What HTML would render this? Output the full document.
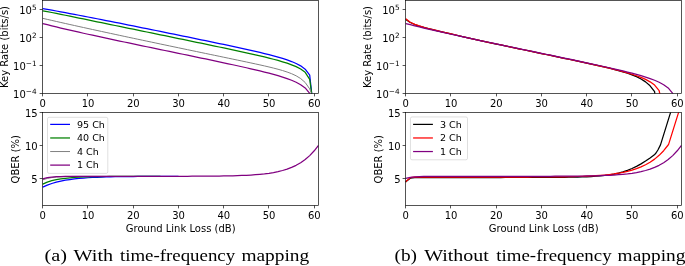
<!DOCTYPE html>
<html><head><meta charset="utf-8"><title>Key rate and QBER vs ground link loss</title>
<style>html,body{margin:0;padding:0;background:#fff}body{width:685px;height:266px;overflow:hidden}</style>
</head><body>
<svg width="685" height="266" viewBox="0 0 685 266" style="display:block">
<defs>
<clipPath id="ctl"><rect x="42.5" y="0.5" width="276.0" height="93.0"/></clipPath>
<clipPath id="cbl"><rect x="42.5" y="112.4" width="276.0" height="93.1"/></clipPath>
<clipPath id="ctr"><rect x="405.5" y="0.5" width="276.0" height="93.0"/></clipPath>
<clipPath id="cbr"><rect x="405.5" y="112.4" width="276.0" height="93.1"/></clipPath>
</defs>
<rect width="685" height="266" fill="#fff"/>
<path d="M42.50,8.53 L42.75,8.57 L47.27,9.37 L51.80,10.18 L56.32,11.01 L60.85,11.84 L65.37,12.68 L69.90,13.53 L74.42,14.38 L78.95,15.25 L83.47,16.11 L88.00,16.99 L92.52,17.87 L97.05,18.75 L101.57,19.64 L106.09,20.53 L110.62,21.43 L115.14,22.32 L119.67,23.23 L124.19,24.13 L128.72,25.04 L133.24,25.94 L137.77,26.85 L142.29,27.77 L146.82,28.68 L151.34,29.60 L155.86,30.51 L160.39,31.43 L164.91,32.35 L169.44,33.28 L173.96,34.20 L178.49,35.12 L183.01,36.05 L187.54,36.98 L192.06,37.91 L196.59,38.84 L201.11,39.77 L205.64,40.71 L210.16,41.64 L214.68,42.59 L219.21,43.53 L223.73,44.48 L228.26,45.44 L232.78,46.40 L237.31,47.37 L241.83,48.35 L246.36,49.35 L250.88,50.36 L255.41,51.39 L259.93,52.44 L264.45,53.53 L268.98,54.65 L273.50,55.83 L278.03,57.08 L282.55,58.42 L287.08,59.88 L291.60,61.54 L296.13,63.47 L300.65,65.87 L305.18,69.19 L309.70,75.10 L311.70,93.50 L311.95,96.00" fill="none" stroke="#0000ff" stroke-width="1.25" stroke-linejoin="round" clip-path="url(#ctl)"/>
<path d="M42.50,10.80 L42.75,10.84 L47.27,11.62 L51.80,12.50 L56.32,13.41 L60.85,14.33 L65.37,15.26 L69.90,16.19 L74.42,17.12 L78.95,18.05 L83.47,18.98 L88.00,19.91 L92.52,20.84 L97.05,21.77 L101.57,22.70 L106.09,23.63 L110.62,24.56 L115.14,25.49 L119.67,26.42 L124.19,27.35 L128.72,28.28 L133.24,29.21 L137.77,30.14 L142.29,31.07 L146.82,32.00 L151.34,32.93 L155.86,33.87 L160.39,34.80 L164.91,35.73 L169.44,36.66 L173.96,37.59 L178.49,38.53 L183.01,39.46 L187.54,40.40 L192.06,41.33 L196.59,42.27 L201.11,43.21 L205.64,44.15 L210.16,45.09 L214.68,46.04 L219.21,46.99 L223.73,47.94 L228.26,48.90 L232.78,49.86 L237.31,50.84 L241.83,51.82 L246.36,52.81 L250.88,53.82 L255.41,54.85 L259.93,55.90 L264.45,56.97 L268.98,58.09 L273.50,59.25 L278.03,60.47 L282.55,61.78 L287.08,63.21 L291.60,64.81 L296.13,66.68 L300.65,69.02 L305.18,72.36 L309.70,79.41 L311.70,93.50 L311.95,96.00" fill="none" stroke="#008000" stroke-width="1.25" stroke-linejoin="round" clip-path="url(#ctl)"/>
<path d="M42.50,18.28 L42.75,18.34 L47.27,19.38 L51.80,20.42 L56.32,21.45 L60.85,22.47 L65.37,23.49 L69.90,24.51 L74.42,25.51 L78.95,26.52 L83.47,27.51 L88.00,28.51 L92.52,29.50 L97.05,30.48 L101.57,31.46 L106.09,32.44 L110.62,33.42 L115.14,34.39 L119.67,35.36 L124.19,36.33 L128.72,37.30 L133.24,38.26 L137.77,39.22 L142.29,40.18 L146.82,41.14 L151.34,42.09 L155.86,43.04 L160.39,44.00 L164.91,44.95 L169.44,45.90 L173.96,46.85 L178.49,47.79 L183.01,48.74 L187.54,49.68 L192.06,50.63 L196.59,51.57 L201.11,52.52 L205.64,53.46 L210.16,54.40 L214.68,55.34 L219.21,56.28 L223.73,57.23 L228.26,58.17 L232.78,59.11 L237.31,60.06 L241.83,61.01 L246.36,61.97 L250.88,62.93 L255.41,63.91 L259.93,64.90 L264.45,65.92 L268.98,66.97 L273.50,68.08 L278.03,69.26 L282.55,70.54 L287.08,72.00 L291.60,73.70 L296.13,75.80 L300.65,78.54 L305.18,82.47 L309.70,88.91 L311.50,93.50 L311.70,96.00" fill="none" stroke="#808080" stroke-width="1.0" stroke-linejoin="round" clip-path="url(#ctl)"/>
<path d="M42.50,23.47 L42.75,23.54 L47.27,24.71 L51.80,25.85 L56.32,26.96 L60.85,28.05 L65.37,29.12 L69.90,30.17 L74.42,31.21 L78.95,32.23 L83.47,33.24 L88.00,34.24 L92.52,35.23 L97.05,36.22 L101.57,37.19 L106.09,38.16 L110.62,39.13 L115.14,40.09 L119.67,41.05 L124.19,42.00 L128.72,42.95 L133.24,43.90 L137.77,44.85 L142.29,45.79 L146.82,46.74 L151.34,47.68 L155.86,48.62 L160.39,49.56 L164.91,50.50 L169.44,51.44 L173.96,52.38 L178.49,53.32 L183.01,54.26 L187.54,55.20 L192.06,56.14 L196.59,57.08 L201.11,58.03 L205.64,58.98 L210.16,59.93 L214.68,60.88 L219.21,61.84 L223.73,62.80 L228.26,63.77 L232.78,64.75 L237.31,65.74 L241.83,66.74 L246.36,67.75 L250.88,68.79 L255.41,69.84 L259.93,70.92 L264.45,72.04 L268.98,73.19 L273.50,74.41 L278.03,75.69 L282.55,77.08 L287.08,78.59 L291.60,80.28 L296.13,82.26 L300.65,84.69 L305.18,87.97 L309.70,93.46 L310.00,96.00" fill="none" stroke="#800080" stroke-width="1.25" stroke-linejoin="round" clip-path="url(#ctl)"/>
<path d="M405.50,19.18 L405.75,19.40 L410.27,22.53 L414.80,24.55 L419.32,26.08 L423.85,27.37 L428.37,28.56 L432.90,29.69 L437.42,30.78 L441.95,31.86 L446.47,32.91 L451.00,33.96 L455.52,35.00 L460.05,36.03 L464.57,37.05 L469.09,38.07 L473.62,39.08 L478.14,40.08 L482.67,41.08 L487.19,42.06 L491.72,43.04 L496.24,44.02 L500.77,44.98 L505.29,45.95 L509.82,46.90 L514.34,47.86 L518.86,48.81 L523.39,49.76 L527.91,50.71 L532.44,51.66 L536.96,52.60 L541.49,53.55 L546.01,54.50 L550.54,55.44 L555.06,56.39 L559.59,57.34 L564.11,58.29 L568.64,59.24 L573.16,60.20 L577.68,61.16 L582.21,62.13 L586.73,63.10 L591.26,64.09 L595.78,65.09 L600.31,66.11 L604.83,67.15 L609.36,68.23 L613.88,69.36 L618.41,70.55 L622.93,71.83 L627.45,73.23 L631.98,74.82 L636.50,76.68 L641.03,78.95 L645.55,81.85 L650.08,85.80 L654.60,91.69 L654.80,93.50 L654.90,96.00" fill="none" stroke="#000000" stroke-width="1.25" stroke-linejoin="round" clip-path="url(#ctr)"/>
<path d="M405.50,18.58 L405.75,18.83 L410.27,22.23 L414.80,24.38 L419.32,25.96 L423.85,27.29 L428.37,28.49 L432.90,29.63 L437.42,30.73 L441.95,31.80 L446.47,32.87 L451.00,33.92 L455.52,34.96 L460.05,35.99 L464.57,37.02 L469.09,38.04 L473.62,39.05 L478.14,40.05 L482.67,41.05 L487.19,42.04 L491.72,43.02 L496.24,44.00 L500.77,44.97 L505.29,45.93 L509.82,46.89 L514.34,47.85 L518.86,48.80 L523.39,49.75 L527.91,50.70 L532.44,51.65 L536.96,52.60 L541.49,53.54 L546.01,54.49 L550.54,55.44 L555.06,56.39 L559.59,57.34 L564.11,58.29 L568.64,59.25 L573.16,60.20 L577.68,61.17 L582.21,62.14 L586.73,63.11 L591.26,64.10 L595.78,65.10 L600.31,66.12 L604.83,67.15 L609.36,68.21 L613.88,69.31 L618.41,70.44 L622.93,71.63 L627.45,72.90 L631.98,74.26 L636.50,75.75 L641.03,77.44 L645.55,79.41 L650.08,81.83 L654.60,85.10 L659.13,90.57 L659.75,93.50 L659.85,96.00" fill="none" stroke="#ff0000" stroke-width="1.25" stroke-linejoin="round" clip-path="url(#ctr)"/>
<path d="M405.50,23.47 L405.75,23.54 L410.27,24.71 L414.80,25.85 L419.32,26.96 L423.85,28.05 L428.37,29.12 L432.90,30.17 L437.42,31.21 L441.95,32.23 L446.47,33.24 L451.00,34.24 L455.52,35.23 L460.05,36.22 L464.57,37.19 L469.09,38.16 L473.62,39.13 L478.14,40.09 L482.67,41.05 L487.19,42.00 L491.72,42.95 L496.24,43.90 L500.77,44.85 L505.29,45.79 L509.82,46.74 L514.34,47.68 L518.86,48.62 L523.39,49.56 L527.91,50.50 L532.44,51.44 L536.96,52.38 L541.49,53.32 L546.01,54.26 L550.54,55.20 L555.06,56.14 L559.59,57.08 L564.11,58.03 L568.64,58.98 L573.16,59.93 L577.68,60.88 L582.21,61.84 L586.73,62.80 L591.26,63.77 L595.78,64.75 L600.31,65.74 L604.83,66.74 L609.36,67.75 L613.88,68.79 L618.41,69.84 L622.93,70.92 L627.45,72.04 L631.98,73.19 L636.50,74.41 L641.03,75.69 L645.55,77.08 L650.08,78.59 L654.60,80.28 L659.13,82.26 L663.65,84.69 L668.18,87.97 L672.70,93.46 L673.00,96.00" fill="none" stroke="#800080" stroke-width="1.25" stroke-linejoin="round" clip-path="url(#ctr)"/>
<path d="M42.50,187.18 L42.75,187.06 L47.27,185.10 L51.80,183.49 L56.32,182.18 L60.85,181.11 L65.37,180.23 L69.90,179.52 L74.42,178.93 L78.95,178.46 L83.47,178.06 L88.00,177.75 L92.52,177.49 L97.05,177.27 L101.57,177.10 L106.09,176.96 L110.62,176.84 L115.14,176.74 L119.67,176.67 L124.19,176.60 L128.72,176.55 L133.24,176.51 L137.77,176.47 L142.29,176.44 L146.82,176.42 L151.34,176.39 L155.86,176.38 L160.39,176.36 L164.91,176.35 L169.44,176.33 L173.96,176.32 L178.49,176.31 L178.50,176.31" fill="none" stroke="#0000ff" stroke-width="1.25" stroke-linejoin="round" clip-path="url(#cbl)"/>
<path d="M42.50,184.22 L42.75,184.08 L47.27,182.08 L51.80,180.71 L56.32,179.68 L60.85,178.89 L65.37,178.29 L69.90,177.83 L74.42,177.47 L78.95,177.20 L83.47,177.00 L88.00,176.84 L92.52,176.72 L97.05,176.62 L101.57,176.55 L106.09,176.50 L110.62,176.46 L115.14,176.42 L119.67,176.40 L124.19,176.38 L128.72,176.36 L133.24,176.35 L137.77,176.34 L142.29,176.34 L146.82,176.33 L151.34,176.32 L155.86,176.32 L160.39,176.31 L160.40,176.31" fill="none" stroke="#008000" stroke-width="1.25" stroke-linejoin="round" clip-path="url(#cbl)"/>
<path d="M42.50,179.92 L42.75,179.82 L47.27,178.45 L51.80,177.61 L56.32,177.10 L60.85,176.80 L65.37,176.61 L69.90,176.50 L74.42,176.43 L78.95,176.39 L83.47,176.36 L88.00,176.35 L92.52,176.34 L97.05,176.33 L101.57,176.33 L106.09,176.32 L110.00,176.32" fill="none" stroke="#808080" stroke-width="1.0" stroke-linejoin="round" clip-path="url(#cbl)"/>
<path d="M42.50,178.89 L42.75,178.80 L47.27,177.64 L51.80,177.02 L56.32,176.69 L60.85,176.52 L65.37,176.43 L69.90,176.38 L74.42,176.35 L78.95,176.34 L83.47,176.33 L88.00,176.33 L92.52,176.32 L97.05,176.32 L101.57,176.32 L106.09,176.32 L110.62,176.32 L115.14,176.32 L119.67,176.32 L124.19,176.32 L128.72,176.32 L133.24,176.32 L137.77,176.32 L142.29,176.31 L146.82,176.31 L151.34,176.31 L155.86,176.31 L160.39,176.30 L164.91,176.30 L169.44,176.29 L173.96,176.29 L178.49,176.28 L183.01,176.27 L187.54,176.26 L192.06,176.24 L196.59,176.22 L201.11,176.20 L205.64,176.17 L210.16,176.13 L214.68,176.09 L219.21,176.03 L223.73,175.96 L228.26,175.88 L232.78,175.77 L237.31,175.64 L241.83,175.48 L246.36,175.27 L250.88,175.02 L255.41,174.71 L259.93,174.33 L264.45,173.85 L268.98,173.26 L273.50,172.53 L278.03,171.62 L282.55,170.51 L287.08,169.12 L291.60,167.42 L296.13,165.31 L300.65,162.72 L305.18,159.52 L309.70,155.60 L314.23,150.80 L318.50,145.28" fill="none" stroke="#800080" stroke-width="1.25" stroke-linejoin="round" clip-path="url(#cbl)"/>
<path d="M405.50,182.13 L405.75,181.71 L410.27,178.25 L414.80,177.63 L419.32,177.52 L423.85,177.50 L428.37,177.50 L432.90,177.50 L437.42,177.50 L441.95,177.50 L446.47,177.50 L451.00,177.50 L455.52,177.50 L460.05,177.50 L464.57,177.50 L469.09,177.50 L473.62,177.50 L478.14,177.50 L482.67,177.50 L487.19,177.50 L491.72,177.50 L496.24,177.50 L500.77,177.50 L505.29,177.49 L509.82,177.49 L514.34,177.49 L518.86,177.49 L523.39,177.48 L527.91,177.48 L532.44,177.47 L536.96,177.46 L541.49,177.45 L546.01,177.43 L550.54,177.41 L555.06,177.39 L559.59,177.35 L564.11,177.31 L568.64,177.25 L573.16,177.17 L577.68,177.07 L582.21,176.94 L586.73,176.76 L591.26,176.54 L595.78,176.25 L600.31,175.88 L604.83,175.41 L609.36,174.79 L613.88,174.02 L618.41,173.04 L622.93,171.82 L627.45,170.32 L631.98,168.51 L636.50,166.35 L641.03,163.85 L645.55,161.03 L650.08,157.93 L654.36,154.83 L656.00,153.00 L657.90,150.00 L660.50,144.90 L670.60,112.40 L676.45,93.20" fill="none" stroke="#000000" stroke-width="1.25" stroke-linejoin="round" clip-path="url(#cbr)"/>
<path d="M405.50,182.14 L405.75,181.61 L410.27,177.66 L414.80,177.13 L419.32,177.06 L423.85,177.05 L428.37,177.05 L432.90,177.05 L437.42,177.05 L441.95,177.05 L446.47,177.05 L451.00,177.05 L455.52,177.05 L460.05,177.05 L464.57,177.05 L469.09,177.05 L473.62,177.05 L478.14,177.05 L482.67,177.04 L487.19,177.04 L491.72,177.04 L496.24,177.04 L500.77,177.04 L505.29,177.03 L509.82,177.03 L514.34,177.03 L518.86,177.02 L523.39,177.01 L527.91,177.00 L532.44,176.99 L536.96,176.98 L541.49,176.96 L546.01,176.93 L550.54,176.90 L555.06,176.87 L559.59,176.82 L564.11,176.77 L568.64,176.69 L573.16,176.61 L577.68,176.50 L582.21,176.36 L586.73,176.19 L591.26,175.98 L595.78,175.72 L600.31,175.40 L604.83,175.01 L609.36,174.53 L613.88,173.95 L618.41,173.24 L622.93,172.38 L627.45,171.35 L631.98,170.12 L636.50,168.64 L641.03,166.87 L645.55,164.75 L650.08,162.20 L654.60,159.11 L659.13,155.35 L663.65,150.72 L668.18,145.00 L668.60,144.39 L678.60,112.40 L684.45,93.10" fill="none" stroke="#ff0000" stroke-width="1.25" stroke-linejoin="round" clip-path="url(#cbr)"/>
<path d="M405.50,178.47 L405.75,178.40 L410.27,177.43 L414.80,176.91 L419.32,176.63 L423.85,176.49 L428.37,176.41 L432.90,176.37 L437.42,176.35 L441.95,176.33 L446.47,176.33 L451.00,176.33 L455.52,176.32 L460.05,176.32 L464.57,176.32 L469.09,176.32 L473.62,176.32 L478.14,176.32 L482.67,176.32 L487.19,176.32 L491.72,176.32 L496.24,176.32 L500.77,176.32 L505.29,176.31 L509.82,176.31 L514.34,176.31 L518.86,176.31 L523.39,176.30 L527.91,176.30 L532.44,176.29 L536.96,176.29 L541.49,176.28 L546.01,176.27 L550.54,176.26 L555.06,176.24 L559.59,176.22 L564.11,176.20 L568.64,176.17 L573.16,176.13 L577.68,176.09 L582.21,176.03 L586.73,175.96 L591.26,175.88 L595.78,175.77 L600.31,175.64 L604.83,175.48 L609.36,175.27 L613.88,175.02 L618.41,174.71 L622.93,174.33 L627.45,173.85 L631.98,173.26 L636.50,172.53 L641.03,171.62 L645.55,170.51 L650.08,169.12 L654.60,167.42 L659.13,165.31 L663.65,162.72 L668.18,159.52 L672.70,155.60 L677.23,150.80 L681.50,145.28" fill="none" stroke="#800080" stroke-width="1.25" stroke-linejoin="round" clip-path="url(#cbr)"/>
<rect x="42.5" y="0.5" width="276.0" height="93.0" fill="none" stroke="#000" stroke-width="0.67"/>
<line x1="42.50" x2="42.50" y1="93.5" y2="96.4" stroke="#000" stroke-width="0.67"/>
<text x="42.80" y="107.20" text-anchor="middle" font-family="DejaVu Sans, Liberation Sans, sans-serif" font-size="10" fill="#000">0</text>
<line x1="87.50" x2="87.50" y1="93.5" y2="96.4" stroke="#000" stroke-width="0.67"/>
<text x="88.05" y="107.20" text-anchor="middle" font-family="DejaVu Sans, Liberation Sans, sans-serif" font-size="10" fill="#000">10</text>
<line x1="133.50" x2="133.50" y1="93.5" y2="96.4" stroke="#000" stroke-width="0.67"/>
<text x="133.29" y="107.20" text-anchor="middle" font-family="DejaVu Sans, Liberation Sans, sans-serif" font-size="10" fill="#000">20</text>
<line x1="178.50" x2="178.50" y1="93.5" y2="96.4" stroke="#000" stroke-width="0.67"/>
<text x="178.54" y="107.20" text-anchor="middle" font-family="DejaVu Sans, Liberation Sans, sans-serif" font-size="10" fill="#000">30</text>
<line x1="223.50" x2="223.50" y1="93.5" y2="96.4" stroke="#000" stroke-width="0.67"/>
<text x="223.78" y="107.20" text-anchor="middle" font-family="DejaVu Sans, Liberation Sans, sans-serif" font-size="10" fill="#000">40</text>
<line x1="268.50" x2="268.50" y1="93.5" y2="96.4" stroke="#000" stroke-width="0.67"/>
<text x="269.03" y="107.20" text-anchor="middle" font-family="DejaVu Sans, Liberation Sans, sans-serif" font-size="10" fill="#000">50</text>
<line x1="314.50" x2="314.50" y1="93.5" y2="96.4" stroke="#000" stroke-width="0.67"/>
<text x="314.28" y="107.20" text-anchor="middle" font-family="DejaVu Sans, Liberation Sans, sans-serif" font-size="10" fill="#000">60</text>
<line x1="39.6" x2="42.5" y1="9.50" y2="9.50" stroke="#000" stroke-width="0.67"/>
<text x="36.60" y="14.30" text-anchor="end" font-family="DejaVu Sans, Liberation Sans, sans-serif" font-size="10" fill="#000">10<tspan font-size="7.3" dy="-4.2">5</tspan></text>
<line x1="39.6" x2="42.5" y1="37.50" y2="37.50" stroke="#000" stroke-width="0.67"/>
<text x="36.60" y="42.20" text-anchor="end" font-family="DejaVu Sans, Liberation Sans, sans-serif" font-size="10" fill="#000">10<tspan font-size="7.3" dy="-4.2">2</tspan></text>
<line x1="39.6" x2="42.5" y1="65.50" y2="65.50" stroke="#000" stroke-width="0.67"/>
<text x="36.60" y="70.10" text-anchor="end" font-family="DejaVu Sans, Liberation Sans, sans-serif" font-size="10" fill="#000">10<tspan font-size="7.3" dy="-4.2">−1</tspan></text>
<line x1="39.6" x2="42.5" y1="93.50" y2="93.50" stroke="#000" stroke-width="0.67"/>
<text x="36.60" y="98.00" text-anchor="end" font-family="DejaVu Sans, Liberation Sans, sans-serif" font-size="10" fill="#000">10<tspan font-size="7.3" dy="-4.2">−4</tspan></text>
<text transform="translate(8.10,47.00) rotate(-90)" text-anchor="middle" font-family="DejaVu Sans, Liberation Sans, sans-serif" font-size="10" fill="#000">Key Rate (bits/s)</text>
<rect x="42.5" y="112.4" width="276.0" height="93.1" fill="none" stroke="#000" stroke-width="0.67"/>
<line x1="42.50" x2="42.50" y1="205.5" y2="208.4" stroke="#000" stroke-width="0.67"/>
<text x="42.80" y="219.20" text-anchor="middle" font-family="DejaVu Sans, Liberation Sans, sans-serif" font-size="10" fill="#000">0</text>
<line x1="87.50" x2="87.50" y1="205.5" y2="208.4" stroke="#000" stroke-width="0.67"/>
<text x="88.05" y="219.20" text-anchor="middle" font-family="DejaVu Sans, Liberation Sans, sans-serif" font-size="10" fill="#000">10</text>
<line x1="133.50" x2="133.50" y1="205.5" y2="208.4" stroke="#000" stroke-width="0.67"/>
<text x="133.29" y="219.20" text-anchor="middle" font-family="DejaVu Sans, Liberation Sans, sans-serif" font-size="10" fill="#000">20</text>
<line x1="178.50" x2="178.50" y1="205.5" y2="208.4" stroke="#000" stroke-width="0.67"/>
<text x="178.54" y="219.20" text-anchor="middle" font-family="DejaVu Sans, Liberation Sans, sans-serif" font-size="10" fill="#000">30</text>
<line x1="223.50" x2="223.50" y1="205.5" y2="208.4" stroke="#000" stroke-width="0.67"/>
<text x="223.78" y="219.20" text-anchor="middle" font-family="DejaVu Sans, Liberation Sans, sans-serif" font-size="10" fill="#000">40</text>
<line x1="268.50" x2="268.50" y1="205.5" y2="208.4" stroke="#000" stroke-width="0.67"/>
<text x="269.03" y="219.20" text-anchor="middle" font-family="DejaVu Sans, Liberation Sans, sans-serif" font-size="10" fill="#000">50</text>
<line x1="314.50" x2="314.50" y1="205.5" y2="208.4" stroke="#000" stroke-width="0.67"/>
<text x="314.28" y="219.20" text-anchor="middle" font-family="DejaVu Sans, Liberation Sans, sans-serif" font-size="10" fill="#000">60</text>
<line x1="39.6" x2="42.5" y1="178.50" y2="178.50" stroke="#000" stroke-width="0.67"/>
<text x="37.70" y="183.30" text-anchor="end" font-family="DejaVu Sans, Liberation Sans, sans-serif" font-size="10" fill="#000">5</text>
<line x1="39.6" x2="42.5" y1="145.50" y2="145.50" stroke="#000" stroke-width="0.67"/>
<text x="37.70" y="150.05" text-anchor="end" font-family="DejaVu Sans, Liberation Sans, sans-serif" font-size="10" fill="#000">10</text>
<line x1="39.6" x2="42.5" y1="112.50" y2="112.50" stroke="#000" stroke-width="0.67"/>
<text x="37.70" y="116.80" text-anchor="end" font-family="DejaVu Sans, Liberation Sans, sans-serif" font-size="10" fill="#000">15</text>
<text transform="translate(18.50,159.25) rotate(-90)" text-anchor="middle" font-family="DejaVu Sans, Liberation Sans, sans-serif" font-size="10" fill="#000">QBER (%)</text>
<text x="180.70" y="231.8" text-anchor="middle" font-family="DejaVu Sans, Liberation Sans, sans-serif" font-size="10" fill="#000">Ground Link Loss (dB)</text>
<rect x="405.5" y="0.5" width="276.0" height="93.0" fill="none" stroke="#000" stroke-width="0.67"/>
<line x1="405.50" x2="405.50" y1="93.5" y2="96.4" stroke="#000" stroke-width="0.67"/>
<text x="405.80" y="107.20" text-anchor="middle" font-family="DejaVu Sans, Liberation Sans, sans-serif" font-size="10" fill="#000">0</text>
<line x1="450.50" x2="450.50" y1="93.5" y2="96.4" stroke="#000" stroke-width="0.67"/>
<text x="451.05" y="107.20" text-anchor="middle" font-family="DejaVu Sans, Liberation Sans, sans-serif" font-size="10" fill="#000">10</text>
<line x1="496.50" x2="496.50" y1="93.5" y2="96.4" stroke="#000" stroke-width="0.67"/>
<text x="496.29" y="107.20" text-anchor="middle" font-family="DejaVu Sans, Liberation Sans, sans-serif" font-size="10" fill="#000">20</text>
<line x1="541.50" x2="541.50" y1="93.5" y2="96.4" stroke="#000" stroke-width="0.67"/>
<text x="541.54" y="107.20" text-anchor="middle" font-family="DejaVu Sans, Liberation Sans, sans-serif" font-size="10" fill="#000">30</text>
<line x1="586.50" x2="586.50" y1="93.5" y2="96.4" stroke="#000" stroke-width="0.67"/>
<text x="586.78" y="107.20" text-anchor="middle" font-family="DejaVu Sans, Liberation Sans, sans-serif" font-size="10" fill="#000">40</text>
<line x1="631.50" x2="631.50" y1="93.5" y2="96.4" stroke="#000" stroke-width="0.67"/>
<text x="632.03" y="107.20" text-anchor="middle" font-family="DejaVu Sans, Liberation Sans, sans-serif" font-size="10" fill="#000">50</text>
<line x1="677.50" x2="677.50" y1="93.5" y2="96.4" stroke="#000" stroke-width="0.67"/>
<text x="677.28" y="107.20" text-anchor="middle" font-family="DejaVu Sans, Liberation Sans, sans-serif" font-size="10" fill="#000">60</text>
<line x1="402.6" x2="405.5" y1="9.50" y2="9.50" stroke="#000" stroke-width="0.67"/>
<text x="399.60" y="14.30" text-anchor="end" font-family="DejaVu Sans, Liberation Sans, sans-serif" font-size="10" fill="#000">10<tspan font-size="7.3" dy="-4.2">5</tspan></text>
<line x1="402.6" x2="405.5" y1="37.50" y2="37.50" stroke="#000" stroke-width="0.67"/>
<text x="399.60" y="42.20" text-anchor="end" font-family="DejaVu Sans, Liberation Sans, sans-serif" font-size="10" fill="#000">10<tspan font-size="7.3" dy="-4.2">2</tspan></text>
<line x1="402.6" x2="405.5" y1="65.50" y2="65.50" stroke="#000" stroke-width="0.67"/>
<text x="399.60" y="70.10" text-anchor="end" font-family="DejaVu Sans, Liberation Sans, sans-serif" font-size="10" fill="#000">10<tspan font-size="7.3" dy="-4.2">−1</tspan></text>
<line x1="402.6" x2="405.5" y1="93.50" y2="93.50" stroke="#000" stroke-width="0.67"/>
<text x="399.60" y="98.00" text-anchor="end" font-family="DejaVu Sans, Liberation Sans, sans-serif" font-size="10" fill="#000">10<tspan font-size="7.3" dy="-4.2">−4</tspan></text>
<text transform="translate(371.10,47.00) rotate(-90)" text-anchor="middle" font-family="DejaVu Sans, Liberation Sans, sans-serif" font-size="10" fill="#000">Key Rate (bits/s)</text>
<rect x="405.5" y="112.4" width="276.0" height="93.1" fill="none" stroke="#000" stroke-width="0.67"/>
<line x1="405.50" x2="405.50" y1="205.5" y2="208.4" stroke="#000" stroke-width="0.67"/>
<text x="405.80" y="219.20" text-anchor="middle" font-family="DejaVu Sans, Liberation Sans, sans-serif" font-size="10" fill="#000">0</text>
<line x1="450.50" x2="450.50" y1="205.5" y2="208.4" stroke="#000" stroke-width="0.67"/>
<text x="451.05" y="219.20" text-anchor="middle" font-family="DejaVu Sans, Liberation Sans, sans-serif" font-size="10" fill="#000">10</text>
<line x1="496.50" x2="496.50" y1="205.5" y2="208.4" stroke="#000" stroke-width="0.67"/>
<text x="496.29" y="219.20" text-anchor="middle" font-family="DejaVu Sans, Liberation Sans, sans-serif" font-size="10" fill="#000">20</text>
<line x1="541.50" x2="541.50" y1="205.5" y2="208.4" stroke="#000" stroke-width="0.67"/>
<text x="541.54" y="219.20" text-anchor="middle" font-family="DejaVu Sans, Liberation Sans, sans-serif" font-size="10" fill="#000">30</text>
<line x1="586.50" x2="586.50" y1="205.5" y2="208.4" stroke="#000" stroke-width="0.67"/>
<text x="586.78" y="219.20" text-anchor="middle" font-family="DejaVu Sans, Liberation Sans, sans-serif" font-size="10" fill="#000">40</text>
<line x1="631.50" x2="631.50" y1="205.5" y2="208.4" stroke="#000" stroke-width="0.67"/>
<text x="632.03" y="219.20" text-anchor="middle" font-family="DejaVu Sans, Liberation Sans, sans-serif" font-size="10" fill="#000">50</text>
<line x1="677.50" x2="677.50" y1="205.5" y2="208.4" stroke="#000" stroke-width="0.67"/>
<text x="677.28" y="219.20" text-anchor="middle" font-family="DejaVu Sans, Liberation Sans, sans-serif" font-size="10" fill="#000">60</text>
<line x1="402.6" x2="405.5" y1="178.50" y2="178.50" stroke="#000" stroke-width="0.67"/>
<text x="400.70" y="183.30" text-anchor="end" font-family="DejaVu Sans, Liberation Sans, sans-serif" font-size="10" fill="#000">5</text>
<line x1="402.6" x2="405.5" y1="145.50" y2="145.50" stroke="#000" stroke-width="0.67"/>
<text x="400.70" y="150.05" text-anchor="end" font-family="DejaVu Sans, Liberation Sans, sans-serif" font-size="10" fill="#000">10</text>
<line x1="402.6" x2="405.5" y1="112.50" y2="112.50" stroke="#000" stroke-width="0.67"/>
<text x="400.70" y="116.80" text-anchor="end" font-family="DejaVu Sans, Liberation Sans, sans-serif" font-size="10" fill="#000">15</text>
<text transform="translate(381.50,159.25) rotate(-90)" text-anchor="middle" font-family="DejaVu Sans, Liberation Sans, sans-serif" font-size="10" fill="#000">QBER (%)</text>
<text x="543.70" y="231.8" text-anchor="middle" font-family="DejaVu Sans, Liberation Sans, sans-serif" font-size="10" fill="#000">Ground Link Loss (dB)</text>
<rect x="47.5" y="117.3" width="60.30" height="56.10" rx="1.6" ry="1.6" fill="#fff" fill-opacity="0.8" stroke="#ccc" stroke-opacity="0.8" stroke-width="0.8"/>
<line x1="50.2" x2="70.0" y1="124.40" y2="124.40" stroke="#0000ff" stroke-width="1.25"/>
<text x="77.0" y="127.70" font-family="DejaVu Sans, Liberation Sans, sans-serif" font-size="9.55" fill="#000">95 Ch</text>
<line x1="50.2" x2="70.0" y1="137.97" y2="137.97" stroke="#008000" stroke-width="1.25"/>
<text x="77.0" y="141.27" font-family="DejaVu Sans, Liberation Sans, sans-serif" font-size="9.55" fill="#000">40 Ch</text>
<line x1="50.2" x2="70.0" y1="151.54" y2="151.54" stroke="#808080" stroke-width="1.0"/>
<text x="77.0" y="154.84" font-family="DejaVu Sans, Liberation Sans, sans-serif" font-size="9.55" fill="#000">4 Ch</text>
<line x1="50.2" x2="70.0" y1="165.11" y2="165.11" stroke="#800080" stroke-width="1.25"/>
<text x="77.0" y="168.41" font-family="DejaVu Sans, Liberation Sans, sans-serif" font-size="9.55" fill="#000">1 Ch</text>
<rect x="410.45" y="116.95" width="57.05" height="42.85" rx="1.6" ry="1.6" fill="#fff" fill-opacity="0.8" stroke="#ccc" stroke-opacity="0.8" stroke-width="0.8"/>
<line x1="413.1" x2="432.90000000000003" y1="124.40" y2="124.40" stroke="#000000" stroke-width="1.25"/>
<text x="439.90000000000003" y="127.70" font-family="DejaVu Sans, Liberation Sans, sans-serif" font-size="9.55" fill="#000">3 Ch</text>
<line x1="413.1" x2="432.90000000000003" y1="137.97" y2="137.97" stroke="#ff0000" stroke-width="1.25"/>
<text x="439.90000000000003" y="141.27" font-family="DejaVu Sans, Liberation Sans, sans-serif" font-size="9.55" fill="#000">2 Ch</text>
<line x1="413.1" x2="432.90000000000003" y1="151.54" y2="151.54" stroke="#800080" stroke-width="1.25"/>
<text x="439.90000000000003" y="154.84" font-family="DejaVu Sans, Liberation Sans, sans-serif" font-size="9.55" fill="#000">1 Ch</text>
<text y="261.35" font-family="Liberation Serif, DejaVu Serif, serif" font-size="17.6" fill="#000"><tspan x="44.50" textLength="22.50" lengthAdjust="spacingAndGlyphs">(a)</tspan> <tspan x="73.60" textLength="39.50" lengthAdjust="spacingAndGlyphs">With</tspan> <tspan x="119.90" textLength="115.30" lengthAdjust="spacingAndGlyphs">time-frequency</tspan> <tspan x="241.40" textLength="67.80" lengthAdjust="spacingAndGlyphs">mapping</tspan></text>
<text y="261.35" font-family="Liberation Serif, DejaVu Serif, serif" font-size="17.6" fill="#000"><tspan x="394.46" textLength="22.54" lengthAdjust="spacingAndGlyphs">(b)</tspan> <tspan x="424.20" textLength="64.70" lengthAdjust="spacingAndGlyphs">Without</tspan> <tspan x="496.30" textLength="115.30" lengthAdjust="spacingAndGlyphs">time-frequency</tspan> <tspan x="617.60" textLength="67.80" lengthAdjust="spacingAndGlyphs">mapping</tspan></text>
</svg>
</body></html>
